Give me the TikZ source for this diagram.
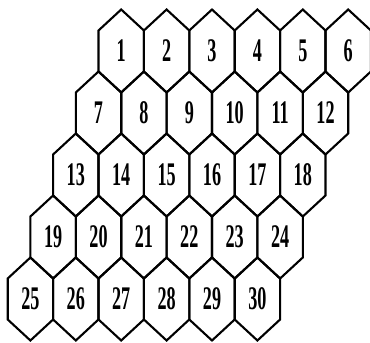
\documentclass[tikz,border=0pt]{standalone}
\usepackage{fontspec}
\setmainfont{Liberation Serif}
\begin{document}
\begin{tikzpicture}[x=1pt,y=-1pt,
  hexline/.style={line width=2.1pt,line join=miter},
  cellnum/.style={font=\fontsize{33}{35}\selectfont\bfseries,xscale=0.55,inner sep=0pt}]
\useasboundingbox (0,0) rectangle (370,343);
\foreach \r in {0,...,4}{
  \foreach \c in {0,...,5}{
    \pgfmathtruncatemacro{\n}{6*\r+\c+1}
    \pgfmathsetmacro{\cx}{121.2-22.7*\r+45.4*\c}
    \pgfmathsetmacro{\cy}{51+62*\r}
    % one cell of the honeycomb
    \draw[hexline] (\cx,\cy) ++(0,-41.5) -- ++(22.7,21) -- ++(0,41)
      -- ++(-22.7,21) -- ++(-22.7,-21) -- ++(0,-41) -- cycle;
    \node[cellnum] (h\n) at (\cx,\cy) {\n};
  }
}
\end{tikzpicture}
\end{document}
